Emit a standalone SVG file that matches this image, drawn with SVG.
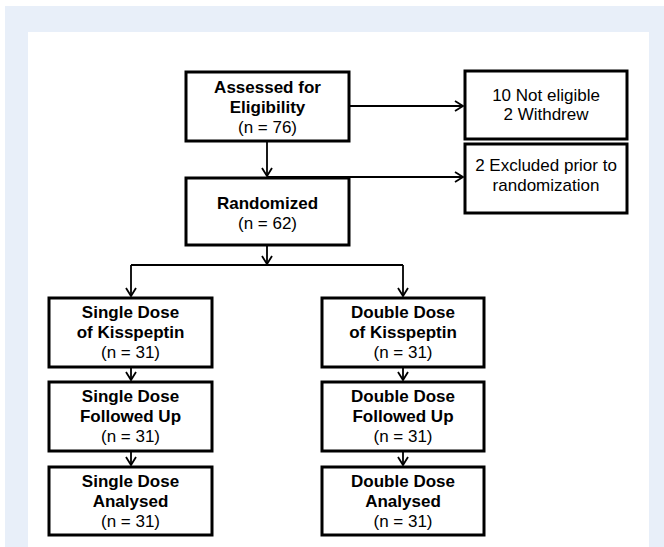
<svg xmlns="http://www.w3.org/2000/svg" width="664" height="547" viewBox="0 0 664 547">
<style>
.box{fill:#fff;stroke:#000;stroke-width:3}
.b{font-family:"Liberation Sans",Arial,sans-serif;font-weight:bold;font-size:17px;text-anchor:middle;fill:#000}
.r{font-family:"Liberation Sans",Arial,sans-serif;font-size:17px;text-anchor:middle;fill:#000}
.c{fill:none;stroke:#000;stroke-width:1.8}
</style>
<defs>
<marker id="ah" markerUnits="userSpaceOnUse" markerWidth="12" markerHeight="12" viewBox="-10 -6 12 12" refX="0" refY="0" orient="auto">
<path d="M-8,-5 L0,0 L-8,5" fill="none" stroke="#000" stroke-width="1.8"/>
</marker>
</defs>
<rect x="0" y="0" width="664" height="547" fill="#fff"/>
<rect x="5" y="6" width="659" height="541" fill="#e8eff9"/>
<rect x="28" y="32" width="621" height="515" fill="#fff"/>
<g id="connectors">
<path class="c" d="M349,106 H463" marker-end="url(#ah)"/>
<path class="c" d="M267,141 V176" marker-end="url(#ah)"/>
<path class="c" d="M267,177 H463" marker-end="url(#ah)"/>
<path class="c" d="M267,245 V264" marker-end="url(#ah)"/>
<path class="c" d="M131,265 H403"/>
<path class="c" d="M131,265 V296" marker-end="url(#ah)"/>
<path class="c" d="M403,265 V296" marker-end="url(#ah)"/>
<path class="c" d="M131,367 V380" marker-end="url(#ah)"/>
<path class="c" d="M131,451 V465" marker-end="url(#ah)"/>
<path class="c" d="M403,367 V380" marker-end="url(#ah)"/>
<path class="c" d="M403,451 V465" marker-end="url(#ah)"/>
</g>
<g id="assessed">
<rect class="box" x="186" y="72" width="163" height="69"/>
<text class="b" x="267.5" y="93">Assessed for</text>
<text class="b" x="267.5" y="113">Eligibility</text>
<text class="r" x="267.5" y="133">(n = 76)</text>
</g>
<g id="not-eligible">
<rect class="box" x="465" y="71" width="162" height="68"/>
<text class="r" x="546" y="101">10 Not eligible</text>
<text class="r" x="546" y="120">2 Withdrew</text>
</g>
<g id="excluded">
<rect class="box" x="465" y="144" width="162" height="69"/>
<text class="r" x="546" y="171">2 Excluded prior to</text>
<text class="r" x="546" y="191">randomization</text>
</g>
<g id="randomized">
<rect class="box" x="186" y="178" width="163" height="67"/>
<text class="b" x="267.5" y="209">Randomized</text>
<text class="r" x="267.5" y="229">(n = 62)</text>
</g>
<g id="single-dose">
<rect class="box" x="49" y="298" width="163" height="69"/>
<text class="b" x="130.5" y="318">Single Dose</text>
<text class="b" x="130.5" y="338">of Kisspeptin</text>
<text class="r" x="130.5" y="358">(n = 31)</text>
</g>
<g id="single-followed">
<rect class="box" x="49" y="382" width="163" height="69"/>
<text class="b" x="130.5" y="402">Single Dose</text>
<text class="b" x="130.5" y="422">Followed Up</text>
<text class="r" x="130.5" y="442">(n = 31)</text>
</g>
<g id="single-analysed">
<rect class="box" x="49" y="467" width="163" height="68"/>
<text class="b" x="130.5" y="487">Single Dose</text>
<text class="b" x="130.5" y="507">Analysed</text>
<text class="r" x="130.5" y="527">(n = 31)</text>
</g>
<g id="double-dose">
<rect class="box" x="322" y="298" width="162" height="69"/>
<text class="b" x="403" y="318">Double Dose</text>
<text class="b" x="403" y="338">of Kisspeptin</text>
<text class="r" x="403" y="358">(n = 31)</text>
</g>
<g id="double-followed">
<rect class="box" x="322" y="382" width="162" height="69"/>
<text class="b" x="403" y="402">Double Dose</text>
<text class="b" x="403" y="422">Followed Up</text>
<text class="r" x="403" y="442">(n = 31)</text>
</g>
<g id="double-analysed">
<rect class="box" x="322" y="467" width="162" height="68"/>
<text class="b" x="403" y="487">Double Dose</text>
<text class="b" x="403" y="507">Analysed</text>
<text class="r" x="403" y="527">(n = 31)</text>
</g>
</svg>
